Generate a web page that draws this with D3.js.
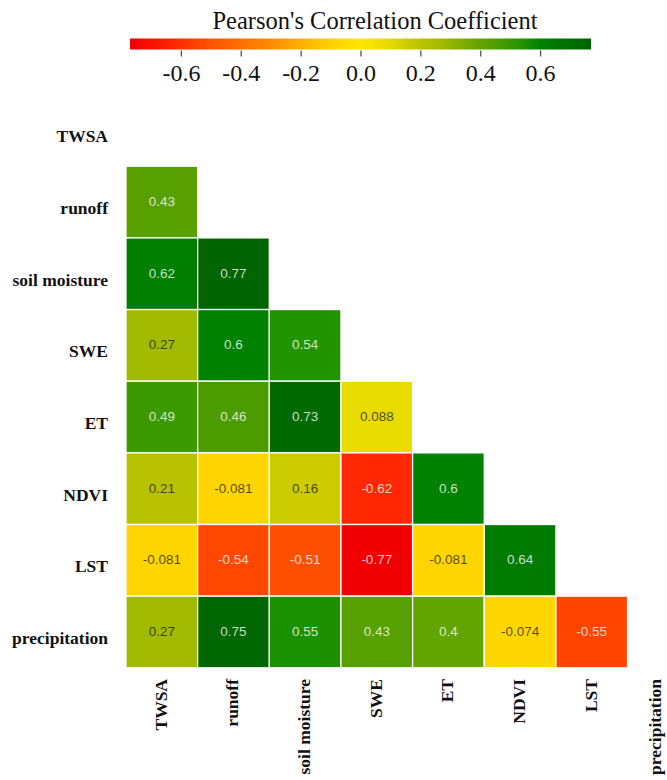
<!DOCTYPE html>
<html>
<head>
<meta charset="utf-8">
<script src="https://cdn.jsdelivr.net/npm/d3@7"></script>
<style>
  html, body { margin: 0; padding: 0; background: #ffffff; }
  svg { display: block; }
</style>
</head>
<body>
<svg id="chart" width="667" height="780"></svg>
<script>
// Variables in matrix order (rows top→bottom, columns left→right)
const variables = ["TWSA", "runoff", "soil moisture", "SWE", "ET", "NDVI", "LST", "precipitation"];

// Lower-triangle Pearson correlations, one array per row (columns 0..row-1)
const rowRunoff        = [0.43];
const rowSoilMoisture  = [0.62, 0.77];
const rowSWE           = [0.27, 0.6, 0.54];
const rowET            = [0.49, 0.46, 0.73, 0.088];
const rowNDVI          = [0.21, -0.081, 0.16, -0.62, 0.6];
const rowLST           = [-0.081, -0.54, -0.51, -0.77, -0.081, 0.64];
const rowPrecipitation = [0.27, 0.75, 0.55, 0.43, 0.4, -0.074, -0.55];

const lowerRows = [[], rowRunoff, rowSoilMoisture, rowSWE, rowET, rowNDVI, rowLST, rowPrecipitation];

// Legend ticks
const legendTicks = [-0.6, -0.4, -0.2, 0.0, 0.2, 0.4, 0.6];
const legendDomain = [-0.77, 0.77];

// Colour ramp stops (value → colour)
const rampValues = [-0.77, -0.62, -0.55, -0.5, -0.3, -0.12, -0.07, 0, 0.088, 0.16, 0.21, 0.27, 0.4, 0.46, 0.54, 0.6, 0.73, 0.77];
const rampColors = ["#f00000", "#ff2800", "#ff4400", "#ff5200", "#ff8c00", "#ffcc00", "#ffd800", "#ffe600", "#e8dc00", "#cccc00", "#b8c200", "#a2bb00", "#62a400", "#4c9c00", "#229400", "#008200", "#006a00", "#006400"];

const color = d3.scaleLinear().domain(rampValues).range(rampColors).clamp(true);

const svg = d3.select("#chart");
const serif = "'Liberation Serif', 'Times New Roman', serif";

// ---- Legend ----
const legendX = d3.scaleLinear().domain(legendDomain).range([130, 591]);
const defs = svg.append("defs");
const grad = defs.append("linearGradient").attr("id", "corrGradient")
  .attr("x1", "0%").attr("x2", "100%").attr("y1", "0%").attr("y2", "0%");
d3.range(0, 101).forEach(i => {
  const v = legendDomain[0] + (legendDomain[1] - legendDomain[0]) * i / 100;
  grad.append("stop").attr("offset", i + "%").attr("stop-color", color(v));
});

svg.append("text")
  .attr("x", 375).attr("y", 29)
  .attr("text-anchor", "middle")
  .attr("font-family", serif)
  .attr("font-size", 24.5)
  .attr("fill", "#111")
  .text("Pearson's Correlation Coefficient");

svg.append("rect")
  .attr("x", legendX(legendDomain[0])).attr("y", 38.5)
  .attr("width", legendX(legendDomain[1]) - legendX(legendDomain[0]))
  .attr("height", 11)
  .attr("fill", "url(#corrGradient)");

const legendAxis = svg.append("g")
  .attr("transform", "translate(0,50.5)")
  .call(d3.axisBottom(legendX).tickValues(legendTicks).tickSize(6).tickPadding(7)
    .tickFormat(d3.format(".1f")));
legendAxis.select(".domain").remove();
legendAxis.selectAll(".tick line").attr("stroke", "#444").attr("stroke-width", 1.2);
legendAxis.selectAll(".tick text")
  .attr("font-family", serif)
  .attr("font-size", 24)
  .attr("fill", "#111")
  .text(d => d3.format(".1f")(d).replace("−", "-"));

// ---- Matrix ----
const cell = 71.65;
const x = d3.scaleBand().domain(variables).range([126, 126 + cell * variables.length]);
const y = d3.scaleBand().domain(variables).range([94.6, 94.6 + cell * variables.length]);

const cells = [];
lowerRows.forEach((vals, i) => {
  vals.forEach((v, j) => cells.push({ row: variables[i], col: variables[j], value: v }));
});

const g = svg.append("g");
g.selectAll("rect.cell")
  .data(cells)
  .join("rect")
  .attr("class", "cell")
  .attr("x", d => x(d.col))
  .attr("y", d => y(d.row))
  .attr("width", x.bandwidth())
  .attr("height", y.bandwidth())
  .attr("fill", d => color(d.value))
  .attr("stroke", "#ffffff")
  .attr("stroke-width", 1.3);

g.selectAll("text.val")
  .data(cells)
  .join("text")
  .attr("class", "val")
  .attr("x", d => x(d.col) + x.bandwidth() / 2)
  .attr("y", d => y(d.row) + y.bandwidth() / 2 + 4)
  .attr("text-anchor", "middle")
  .attr("font-family", "'Liberation Sans', Arial, sans-serif")
  .attr("font-size", 13.5)
  .attr("fill", d => Math.abs(d.value) < 0.3 ? "#000000" : "#ffffff")
  .attr("fill-opacity", d => Math.abs(d.value) < 0.3 ? 0.68 : 0.78)
  .text(d => String(d.value));

// Row labels
svg.append("g").selectAll("text")
  .data(variables)
  .join("text")
  .attr("x", 108)
  .attr("y", d => y(d) + y.bandwidth() / 2 + 12)
  .attr("text-anchor", "end")
  .attr("font-family", serif)
  .attr("font-weight", "bold")
  .attr("font-size", 17.5)
  .attr("fill", "#111")
  .text(d => d);

// Column labels (rotated); the last one is kept inside the right edge
svg.append("g").selectAll("text")
  .data(variables)
  .join("text")
  .attr("transform", d => `translate(${Math.min(x(d) + x.bandwidth() / 2 + 5, 661)},679) rotate(-90)`)
  .attr("text-anchor", "end")
  .attr("font-family", serif)
  .attr("font-weight", "bold")
  .attr("font-size", 17.5)
  .attr("fill", "#111")
  .text(d => d);
</script>
</body>
</html>
